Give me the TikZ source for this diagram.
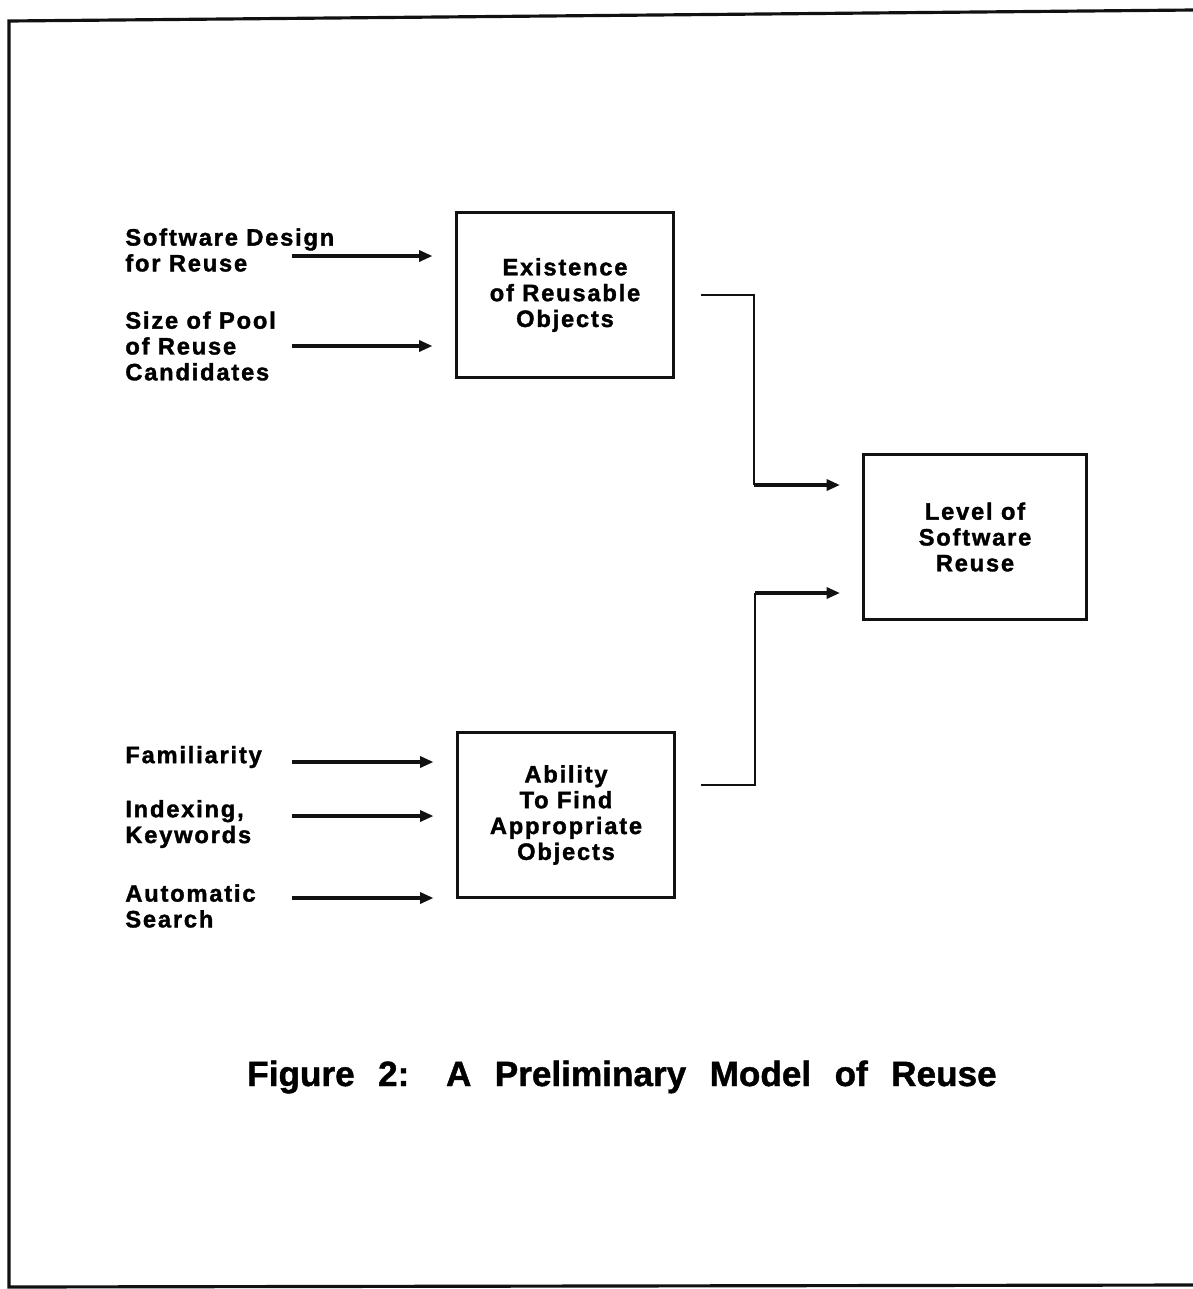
\documentclass[tikz,border=0pt]{standalone}
\usepackage{fontspec}
\usetikzlibrary{arrows.meta}
\setmainfont{Liberation Sans}
\newfontfamily\boxfont{Liberation Sans}[LetterSpace=7.5,FakeBold=1.5]
\newfontfamily\capfont{Liberation Sans}[WordSpace=2.4,FakeBold=1.2]
\definecolor{ink}{HTML}{111111}
\newcommand{\lbl}{\boxfont\bfseries\fontsize{13.5}{14.7}\selectfont}

\begin{document}
\begin{tikzpicture}[x=0.02cm,y=-0.02cm,
  factor/.style={anchor=west,align=left,inner sep=0pt,font=\lbl},
  block/.style={draw=ink,line width=1.7pt,minimum width=4.36cm,minimum height=3.3cm,align=center,font=\lbl},
  feed/.style={ink,line width=2.6pt,-{Triangle[length=0.27cm,width=0.22cm]}},
  link/.style={ink,line width=1.5pt}]
\useasboundingbox (0,0) rectangle (1193,1289);
\draw[ink,line width=1.8pt] (1193,10) -- (9,21) -- (9,1287) -- (1193,1285);

\node[block] (ex) at (565,295) {Existence\\of Reusable\\Objects};
\node[block,minimum width=4.46cm] (lv) at (975,537) {Level of\\Software\\Reuse};
\node[block] (ab) at (566,815) {Ability\\To Find\\Appropriate\\Objects};

\node[factor] (sdr) at (125,250) {Software Design\\for Reuse};
\node[factor] (spr) at (125,346) {Size of Pool\\of Reuse\\Candidates};
\node[factor] (fam) at (125,757) {Familiarity};
\node[factor] (idx) at (125,824) {Indexing,\\Keywords};
\node[factor] (aut) at (125,906) {Automatic\\Search};

\coordinate (f1) at (292,256);
\coordinate (f2) at (292,346);
\coordinate (f3) at (292,762);
\coordinate (f4) at (292,816);
\coordinate (f5) at (292,898);
\foreach \f in {f1,f2}
  \draw[feed,shorten >=0.44cm] (\f) -- (\f -| ex.west);
\foreach \f in {f3,f4,f5}
  \draw[feed,shorten >=0.44cm] (\f) -- (\f -| ab.west);

\coordinate (j1) at (754,485);
\coordinate (j2) at (755,593);
\draw[link] ([xshift=0.52cm]ex.east) -| (j1);
\draw[link] ([xshift=0.5cm,yshift=0.6cm]ab.east) -| (j2);
\draw[feed,shorten >=0.44cm] (j1) -- (j1 -| lv.west);
\draw[feed,shorten >=0.44cm] (j2) -- (j2 -| lv.west);

\node[font=\capfont\bfseries\fontsize{20}{22}\selectfont] (cap) at (622,1077) {Figure 2:\hspace{0.2cm} A Preliminary Model of Reuse};
\end{tikzpicture}
\end{document}
